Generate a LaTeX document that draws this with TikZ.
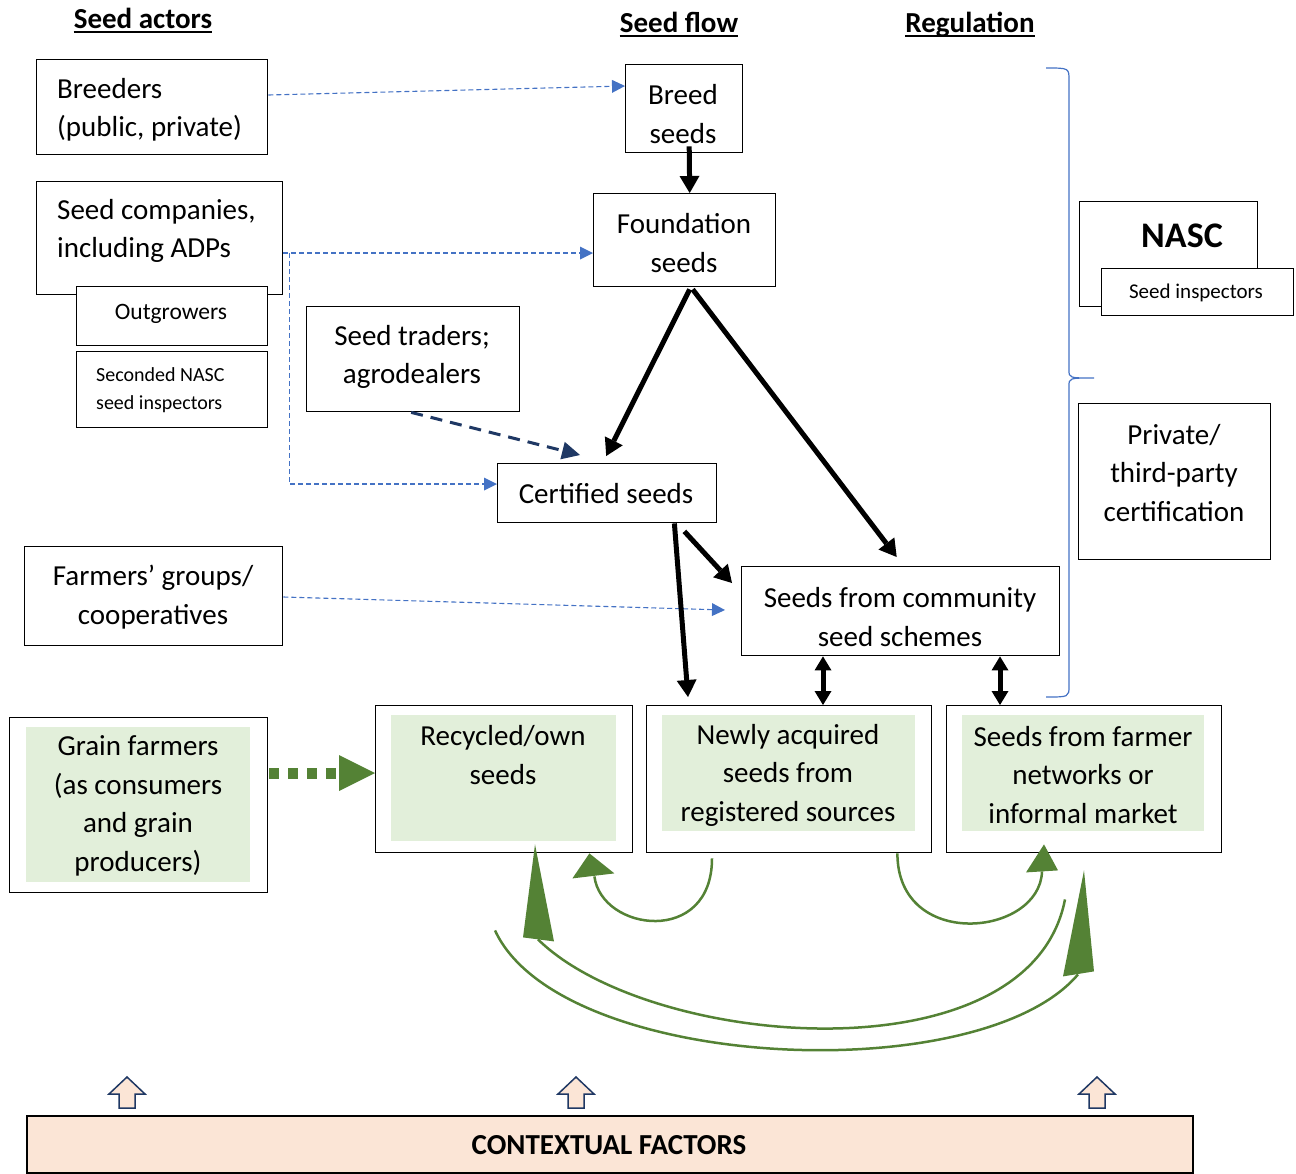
\documentclass[tikz,border=0pt]{standalone}
\usepackage{fontspec}
\setmainfont{Carlito}
\usetikzlibrary{arrows.meta,calc}
\definecolor{bl}{HTML}{4472C4}
\definecolor{nv}{HTML}{1F3864}
\definecolor{gr}{HTML}{548235}
\definecolor{lg}{HTML}{E2EFDA}
\definecolor{pc}{HTML}{FBE5D6}
\begin{document}
\begin{tikzpicture}[x=1pt,y=-1pt,
 box/.style={draw, line width=1.4pt, inner sep=0pt, anchor=north west, fill=white},
 txt/.style={inner sep=0pt, align=center, font=\fontsize{29}{38.5}\selectfont},
 ltxt/.style={txt, align=left, anchor=west},
 greenfill/.style={fill=lg, draw=none, inner sep=0pt, anchor=north west},
 heading/.style={inner sep=0pt, anchor=base, font=\fontsize{29}{35}\selectfont\bfseries},
 bluedash/.style={draw=bl, line width=1.1pt, dash pattern=on 5pt off 3pt, -{Triangle[length=13pt,width=13pt,line width=0pt]}},
 navydash/.style={draw=nv, line width=3pt, dash pattern=on 12pt off 8pt, -{Triangle[length=18pt,width=18pt,line width=0pt]}},
 thickarrow/.style={line width=5pt, -{Triangle[length=17pt,width=20pt,line width=0pt]}},
 dblarrow/.style={line width=5pt, {Triangle[length=14pt,width=17pt,line width=0pt]}-{Triangle[length=14pt,width=17pt,line width=0pt]}},
 gcurve/.style={draw=gr, line width=2.5pt},
 ghead/.style={fill=gr, draw=none},
 uparrow/.style={fill=pc, draw=nv, line width=1.5pt, line join=miter}
]
\useasboundingbox (0,0) rectangle (1296,1173);

% headings
\node[heading] (h1) at (143,28) {Seed actors};
\node[heading] (h2) at (679,32) {Seed flow};
\node[heading] (h3) at (970,32) {Regulation};
\foreach \h in {h1,h2,h3}{
  \draw[line width=1.8pt] ($(\h.base west)+(0,4)$) -- ($(\h.base east)+(0,4)$);
}

% seed actors
\node[box, minimum width=231, minimum height=95] (breeders) at (36,59) {};
\node[ltxt] (breederst) at (57,110) {Breeders\\(public, private)};
\node[box, minimum width=246, minimum height=113] (companies) at (36,181) {};
\node[ltxt] (companiest) at (57,231) {Seed companies,\\including ADPs};
\node[box, minimum width=191, minimum height=59] (outgrowers) at (76,286) {};
\node[txt, font=\fontsize{23.5}{30}\selectfont] (outgrowerst) at (171,314) {Outgrowers};
\node[box, minimum width=191, minimum height=76] (seconded) at (76,351) {};
\node[ltxt, font=\fontsize{20}{28}\selectfont] (secondedt) at (96,390) {Seconded NASC\\seed inspectors};
\node[box, minimum width=213, minimum height=105] (traders) at (306,306) {};
\node[txt] (traderst) at (412,357) {Seed traders;\\agrodealers};
\node[box, minimum width=258, minimum height=99] (farmers) at (24,546) {};
\node[txt] (farmerst) at (153,597) {Farmers’ groups/\\cooperatives};
\node[box, minimum width=258, minimum height=175] (grain) at (9,717) {};
\node[greenfill, minimum width=224, minimum height=155] (grainfill) at (26,727) {};
\node[txt] (graint) at (138,806) {Grain farmers\\(as consumers\\and grain\\producers)};

% seed flow
\node[box, minimum width=117, minimum height=88] (breed) at (625,64) {};
\node[txt] (breedt) at (683,114) {Breed\\seeds};
\node[box, minimum width=182, minimum height=93] (foundation) at (593,193) {};
\node[txt] (foundationt) at (684,243) {Foundation\\seeds};
\node[box, minimum width=219, minimum height=59] (certified) at (497,463) {};
\node[txt] (certifiedt) at (606,494) {Certified seeds};
\node[box, minimum width=318, minimum height=89] (community) at (741,566) {};
\node[txt] (communityt) at (900,617) {Seeds from community\\seed schemes};
\node[box, minimum width=257, minimum height=147] (recycled) at (375,705) {};
\node[greenfill, minimum width=225, minimum height=126] (recycledfill) at (391,715) {};
\node[txt] (recycledt) at (503,755) {Recycled/own\\seeds};
\node[box, minimum width=285, minimum height=147] (newly) at (646,705) {};
\node[greenfill, minimum width=253, minimum height=116] (newlyfill) at (662,715) {};
\node[txt] (newlyt) at (788,775) {Newly acquired\\seeds from\\registered sources};
\node[box, minimum width=275, minimum height=147] (networks) at (946,705) {};
\node[greenfill, minimum width=242, minimum height=116] (networksfill) at (962,715) {};
\node[txt] (networkst) at (1083,775) {Seeds from farmer\\networks or\\informal market};

% regulation
\node[box, minimum width=178, minimum height=105] (nasc) at (1079,201) {};
\node[txt, font=\fontsize{36}{40}\selectfont\bfseries] (nasct) at (1182,236) {NASC};
\node[box, minimum width=192, minimum height=47] (inspectors) at (1101,268) {};
\node[txt, font=\fontsize{21}{26}\selectfont] (inspectorst) at (1196,293) {Seed inspectors};
\node[box, minimum width=192, minimum height=156] (private) at (1078,403) {};
\node[txt] (privatet) at (1174,473) {Private/\\third-party\\certification};

% brace
\draw[bl, line width=1.2pt] (1046,68) .. controls (1069,68) .. (1069,80) -- (1069,370)
  .. controls (1069,378) .. (1094,378) .. controls (1069,378) .. (1069,386) -- (1069,686)
  .. controls (1069,697) .. (1046,697);

% contextual factors
\node[box, fill=pc, line width=1.8pt, minimum width=1166, minimum height=57] (context) at (26,1115) {};
\node[txt, font=\fontsize{29}{35}\selectfont\bfseries] (contextt) at (609,1145) {CONTEXTUAL FACTORS};
\foreach \cx in {127,576,1097}{
  \draw[uparrow] (\cx-8,1108) -- (\cx-8,1094) -- (\cx-18,1094) -- (\cx,1077) -- (\cx+18,1094) -- (\cx+8,1094) -- (\cx+8,1108) -- cycle;
}

% blue dashed connectors
\draw[bluedash] ($(breeders.north east)+(0,36)$) -- ($(breed.north west)+(0,22)$);
\draw[bluedash] ($(companies.north east)+(0,72)$) -- ($(foundation.north west)+(0,60)$);
\coordinate (cv) at ($(companies.north east)+(6,72)$);
\draw[bluedash] (cv) |- ($(certified.north west)+(0,21)$);
\draw[bluedash] ($(farmers.north east)+(0,51)$) -- ($(community.north west)+(-16,44)$);
\draw[navydash] ($(traders.south)+(-2,0)$) -- ($(certified.north west)+(83,-8)$);

% black flow arrows
\draw[thickarrow] ($(breed.south)+(5,-7)$) -- ($(foundation.north)+(5,0)$);
\draw[thickarrow] ($(foundation.south)+(5,2)$) -- ($(certified.north)+(-1,-7)$);
\draw[thickarrow] ($(foundation.south)+(8,2)$) -- ($(community.north)+(-4,-9)$);
\draw[thickarrow] ($(certified.south east)+(-33,8)$) -- ($(community.north west)+(-9,17)$);
\draw[thickarrow] ($(certified.south east)+(-43,0)$) -- ($(newly.north west)+(42,-8)$);
\draw[dblarrow] ($(community.south west)+(82,0)$) -- ($(newly.north west)+(177,0)$);
\draw[dblarrow] ($(community.south west)+(259,0)$) -- ($(networks.north west)+(54,0)$);

% grain farmers to recycled
\draw[draw=gr, line width=11pt, dash pattern=on 10pt off 9pt, -{Triangle[length=36pt,width=36pt,line width=0pt]}]
  ($(grain.north east)+(1,56)$) -- ($(recycled.north west)+(0,68)$);

% green curves: newly -> recycled
\coordinate (c1s) at ($(newly.south west)+(66,5)$);
\coordinate (c1t) at ($(recycled.south east)+(-44,0)$);
\coordinate (c1b) at ($(c1t)+(5,23)$);
\draw[gcurve] (c1s) .. controls ($(c1s)+(0,88)$) and ($(c1b)+(7,55)$) .. (c1b);
\fill[ghead] (c1t) -- ($(c1t)+(-17,25)$) -- ($(c1t)+(25,20)$) -- cycle;
% newly -> networks
\coordinate (c2s) at ($(newly.south east)+(-35,0)$);
\coordinate (c2t) at ($(networks.south west)+(98,-9)$);
\coordinate (c2b) at ($(c2t)+(-2,27)$);
\draw[gcurve] (c2s) .. controls ($(c2s)+(0,98)$) and ($(c2b)+(-2,65)$) .. (c2b);
\fill[ghead] (c2t) -- ($(c2t)+(-18,28)$) -- ($(c2t)+(14,26)$) -- cycle;
% networks -> recycled (inner)
\coordinate (c3s) at ($(networks.south west)+(119,46)$);
\coordinate (c3t) at ($(recycled.south west)+(160,-9)$);
\coordinate (c3b) at ($(c3t)+(3,95)$);
\draw[gcurve] (c3s) .. controls ($(c3s)+(-35,181)$) and ($(c3b)+(112,110)$) .. (c3b);
\fill[ghead] (c3t) -- ($(c3t)+(-12,93)$) -- ($(c3t)+(19,97)$) -- cycle;
% recycled -> networks (outer)
\coordinate (c4s) at ($(recycled.south west)+(120,77)$);
\coordinate (c4t) at ($(networks.south west)+(138,17)$);
\coordinate (c4b) at ($(c4t)+(-6,104)$);
\draw[gcurve] (c4s) .. controls ($(c4s)+(65,141)$) and ($(c4b)+(-98,116)$) .. (c4b);
\fill[ghead] (c4t) -- ($(c4t)+(-21,106)$) -- ($(c4t)+(10,101)$) -- cycle;
\end{tikzpicture}
\end{document}
